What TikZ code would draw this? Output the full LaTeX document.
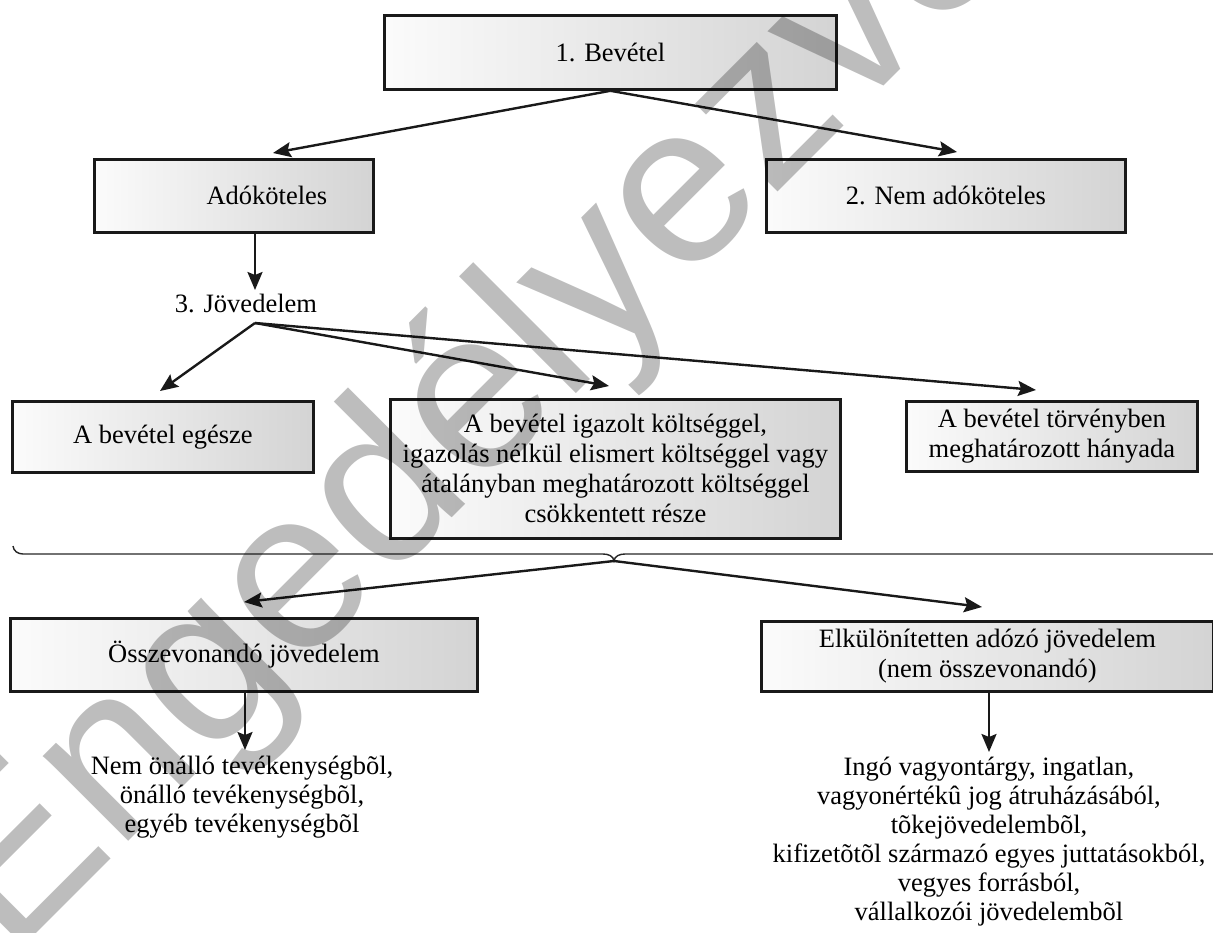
\documentclass[tikz,border=0pt]{standalone}
\usepackage{fontspec}
\setmainfont{Liberation Serif}
\newfontfamily\wmfont{Liberation Sans}
\usetikzlibrary{arrows.meta,calc}
\begin{document}
\begin{tikzpicture}[x=1pt,y=-1pt,
  font=\fontsize{26.5}{30}\selectfont,
  box/.style={draw=black!90, line width=2.8pt, left color=gray!3, right color=gray!34,
    align=center, inner sep=0pt, anchor=north west},
  lbl/.style={align=center, inner sep=0pt},
  arr/.style={line width=2.4pt, draw=black!90,
    -{Stealth[length=18pt,width=15pt,inset=3pt]}},
  wm/.style={text=black, opacity=0.26, inner sep=0pt,
    font=\wmfont\fontsize{228}{228}\selectfont}]
\useasboundingbox (0,0) rectangle (1213,932);

% level 1
\node[box, minimum width=452pt, minimum height=74pt] (bev) at (383,14) {1. Bevétel};

% level 2
\node[box, minimum width=279pt, minimum height=73pt] (adok) at (93,158) {\hspace*{66pt}Adóköteles};
\node[box, minimum width=359pt, minimum height=73pt] (nemadok) at (765,158) {2. Nem adóköteles};

\coordinate (tipadok) at (273,153);
\coordinate (tipnem) at (957,152);
\draw[arr] (bev.south) -- (tipadok);
\draw[arr] (bev.south) -- (tipnem);

% income
\node[lbl, anchor=base] (jov) at (246,312) {3. Jövedelem};
\coordinate (tipjov) at (255,290);
\draw[arr] (adok.south -| tipjov) -- (tipjov);

% level 3
\node[box, minimum width=301pt, minimum height=71pt] (egesz) at (11,400) {A bevétel egésze};
\node[box, minimum width=450pt, minimum height=139pt] (resz) at (389,398)
  {A bevétel igazolt költséggel,\\igazolás nélkül elismert költséggel vagy\\átalányban meghatározott költséggel\\csökkentett része};
\node[box, minimum width=291pt, minimum height=70pt] (hanyad) at (905,400)
  {A bevétel törvényben\\meghatározott hányada};

\coordinate (fork) at (255,323);
\coordinate (tipegesz) at (160,391);
\coordinate (tipresz) at (609,386);
\coordinate (tiphanyad) at (1036,390);
\draw[arr] (fork) -- (tipegesz);
\draw[arr] (fork) -- (tipresz);
\draw[arr] (fork) -- (tiphanyad);

% brace across the whole width
\coordinate (brtip) at (614,561);
\draw[line width=1.4pt, black!85]
  (13,546) to[out=-85,in=180] (23,554) -- (603,554) to[out=0,in=95] (brtip)
  to[out=85,in=180] (625,554) -- (1213,554);

% level 4
\node[box, minimum width=467pt, minimum height=73pt] (ossz) at (9,617) {Összevonandó jövedelem};
\node[box, minimum width=452pt, minimum height=70pt] (elkul) at (760,620)
  {Elkülönítetten adózó jövedelem\\(nem összevonandó)};

\coordinate (tipossz) at (244,602);
\coordinate (tipelkul) at (982,607);
\draw[arr] (brtip) -- (tipossz);
\draw[arr] (brtip) -- (tipelkul);

% level 5
\node[lbl, anchor=north, font=\fontsize{26.5}{29}\selectfont] (osszlist) at (242,756)
  {Nem önálló tevékenységbõl,\\önálló tevékenységbõl,\\egyéb tevékenységbõl};
\node[lbl, anchor=north, font=\fontsize{26.5}{29}\selectfont] (elkullist) at (989,757)
  {Ingó vagyontárgy, ingatlan,\\vagyonértékû jog átruházásából,\\tõkejövedelembõl,\\kifizetõtõl származó egyes juttatásokból,\\vegyes forrásból,\\vállalkozói jövedelembõl};

\coordinate (tiposszl) at (245,750);
\coordinate (tipelkull) at (989,752);
\draw[arr] (ossz.south -| tiposszl) -- (tiposszl);
\draw[arr] (elkul.south -| tipelkull) -- (tipelkull);

% watermark
\node[wm, rotate=45, anchor=base west] (stamp) at (10,960) {Engedélyezve};
\end{tikzpicture}
\end{document}
